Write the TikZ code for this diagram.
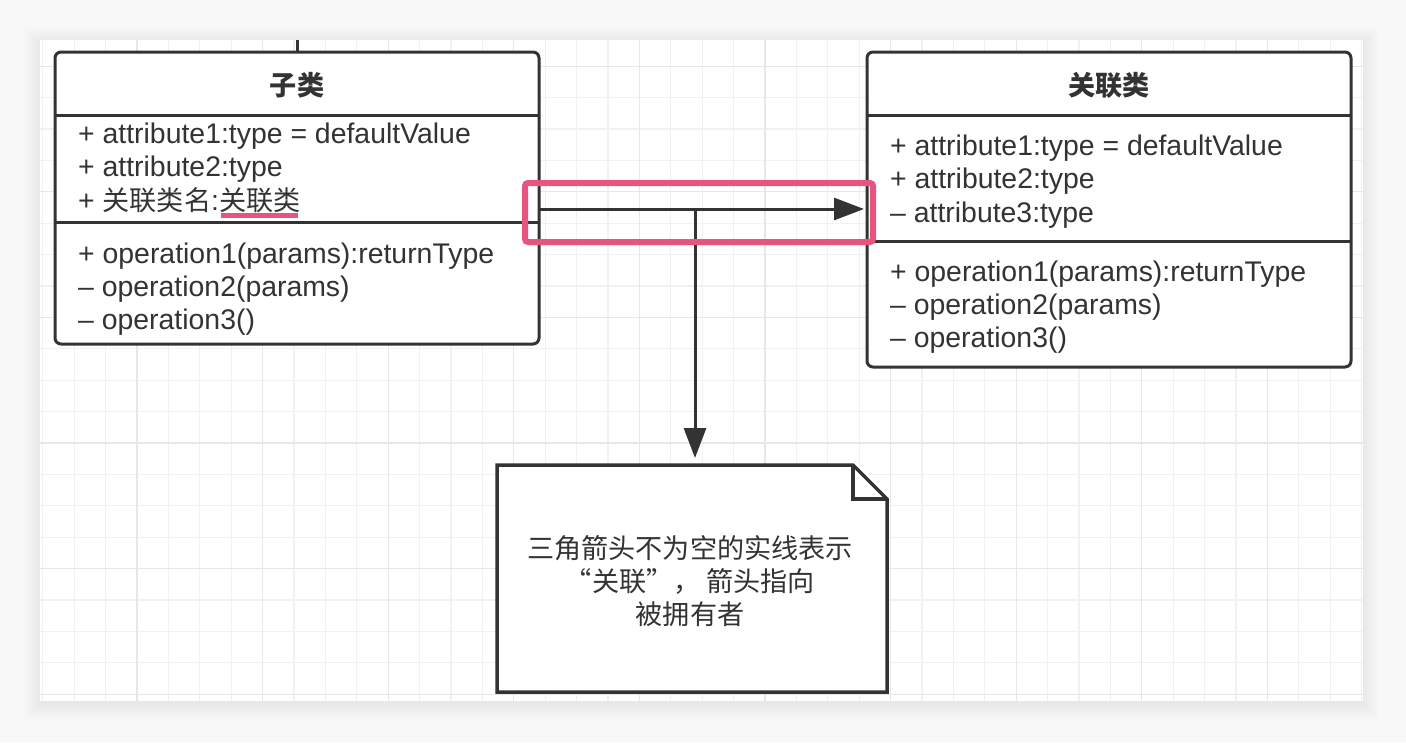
\documentclass[tikz,border=0pt]{standalone}
\usepackage{fontspec}
\setmainfont{Liberation Sans}
\newfontfamily\cjk[Scale=0.955]{Noto Sans CJK SC}
\usetikzlibrary{arrows.meta}
\definecolor{ink}{HTML}{333333}
\definecolor{hl}{RGB}{232,84,128}
\definecolor{gridminor}{HTML}{F1F1F1}
\definecolor{gridmajor}{HTML}{E7E7E7}
\definecolor{outerbg}{HTML}{F8F8F8}
\tikzset{
  classbox/.style={draw=ink, line width=3pt, rounded corners=6pt, fill=white,
    inner sep=0pt, outer sep=0pt, anchor=north west, minimum width=484pt},
  sepline/.style={draw=ink, line width=3pt},
  member/.style={anchor=base west, inner sep=0pt, text=ink,
    font=\fontsize{28.4}{33}\selectfont},
  classtitle/.style={inner sep=0pt, text=ink,
    font=\cjk\bfseries\fontsize{28.4}{33}\selectfont},
  conn/.style={draw=ink, line width=3pt},
  assoc/.style={conn, -{Triangle[length=30pt,width=22pt]}},
  notebox/.style={inner sep=0pt, outer sep=0pt, minimum width=390pt, minimum height=227pt},
  notetextstyle/.style={inner sep=0pt, align=center, text=ink,
    font=\cjk\fontsize{28.4}{33}\selectfont},
  noteline/.style={draw=ink, line width=3.5pt, fill=white, line join=miter},
  highlight/.style={draw=hl, line width=6pt, rounded corners=3pt},
  markline/.style={draw=hl, line width=5pt}
}
\begin{document}
\begin{tikzpicture}[x=1pt,y=-1pt]
\useasboundingbox (0,0) rectangle (1406,742);
% outer background and canvas shadow
\fill[outerbg] (0,0) rectangle (1406,742);
\foreach \s in {1,...,16}{
  \fill[black, opacity=0.004] (40-\s,40-\s+3) rectangle (1363+\s,701+\s+3);
}
\fill[white] (40,40) rectangle (1363,701);
% grid
\begin{scope}
  \clip (40,40) rectangle (1363,701);
  \foreach \k in {0,...,42}{
    \pgfmathsetmacro\xx{42.8+31.4*\k}
    \draw[gridminor, line width=1.3pt] (\xx,40) -- (\xx,701);
  }
  \foreach \k in {1,...,21}{
    \pgfmathsetmacro\yy{34.8+31.4*\k}
    \draw[gridminor, line width=1.3pt] (40,\yy) -- (1363,\yy);
  }
  \foreach \k in {0,...,10}{
    \pgfmathsetmacro\xx{137+125.6*\k}
    \draw[gridmajor, line width=1.3pt] (\xx,40) -- (\xx,701);
  }
  \foreach \k in {0,...,5}{
    \pgfmathsetmacro\yy{66.2+125.6*\k}
    \draw[gridmajor, line width=1.3pt] (40,\yy) -- (1363,\yy);
  }
\end{scope}

% left class: 子类
\node[classbox, minimum height=292pt] (sub) at (55,52) {};
\draw[sepline] (sub.west |- 0,115) -- (sub.east |- 0,115);
\draw[sepline] (sub.west |- 0,222) -- (sub.east |- 0,222);
\node[classtitle] (subtitle) at (297,85) {子类};
\node[member] (sa1) at (78,143) {+ attribute1:type = defaultValue};
\node[member] (sa2) at (78,176) {+ attribute2:type};
\node[member] (sa3) at (78,210) {+ {\cjk 关联类名}:{\cjk 关联类}};
\node[member] (so1) at (78,263) {+ operation1(params):returnType};
\node[member] (so2) at (78,296) {– operation2(params)};
\node[member] (so3) at (78,329) {– operation3()};
\draw[markline] (221,215.5) -- (298,215.5);

% stub line above left class
\coordinate (stub) at (sub.north |- 0,40);
\draw[conn] (stub) -- (sub.north);

% right class: 关联类
\node[classbox, minimum height=315pt] (rel) at (867,52) {};
\draw[sepline] (rel.west |- 0,115) -- (rel.east |- 0,115);
\draw[sepline] (rel.west |- 0,241) -- (rel.east |- 0,241);
\node[classtitle] (reltitle) at (1109,85) {关联类};
\node[member] (ra1) at (890,155) {+ attribute1:type = defaultValue};
\node[member] (ra2) at (890,188) {+ attribute2:type};
\node[member] (ra3) at (890,222) {– attribute3:type};
\node[member] (ro1) at (890,281) {+ operation1(params):returnType};
\node[member] (ro2) at (890,314) {– operation2(params)};
\node[member] (ro3) at (890,347) {– operation3()};

% note
\node[notebox] (note) at (692,578.5) {};
\filldraw[noteline] (note.north west) -- ([xshift=-34pt]note.north east)
  -- ([yshift=-34pt]note.north east) -- (note.south east)
  -- (note.south west) -- cycle;
\draw[noteline, fill=none] ([xshift=-34pt]note.north east)
  -- ([xshift=-34pt,yshift=-34pt]note.north east)
  -- ([yshift=-34pt]note.north east);
\node[notetextstyle] (notetext) at ([xshift=-2pt,yshift=-3pt]note.center) {三角箭头不为空的实线表示\\ “关联”， 箭头指向\\被拥有者};

% connectors
\coordinate (junc) at (695,209);
\draw[assoc, shorten >=3pt] (sub.east |- junc) -- (rel.west |- junc);
\draw[assoc, shorten >=7pt] (junc) -- (junc |- note.north);

% highlight
\draw[highlight] (525,183) rectangle (873,242);
\end{tikzpicture}
\end{document}
